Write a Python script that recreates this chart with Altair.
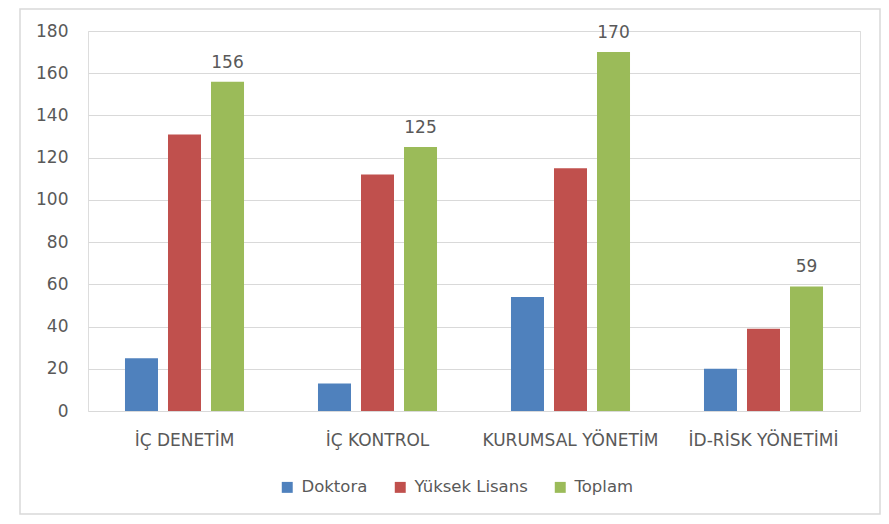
import altair as alt
import pandas as pd

categories = ["İÇ DENETİM", "İÇ KONTROL", "KURUMSAL YÖNETİM", "İD-RİSK YÖNETİMİ"]
series = ["Doktora", "Yüksek Lisans", "Toplam"]
doktora = [25, 13, 54, 20]
yuksek_lisans = [131, 112, 115, 39]
toplam = [156, 125, 170, 59]
colors = ["#4F81BD", "#C0504D", "#9BBB59"]
y_ticks = [0, 20, 40, 60, 80, 100, 120, 140, 160, 180]

rows = []
for s, vals in zip(series, [doktora, yuksek_lisans, toplam]):
    for c, v in zip(categories, vals):
        rows.append({"kategori": c, "seri": s, "deger": v})
df = pd.DataFrame(rows)

FONT = "DejaVu Sans"
FS = 17
TXT = "#595959"

x_enc = alt.X("kategori:N", sort=categories,
              scale=alt.Scale(paddingInner=0, paddingOuter=0),
              axis=alt.Axis(title=None, labelAngle=0, ticks=False, domain=False,
                            labelPadding=21, labelFontSize=FS, labelColor=TXT,
                            labelFont=FONT))
xoff = alt.XOffset("seri:N", sort=series,
                   scale=alt.Scale(paddingInner=10 / 43, paddingOuter=0.86))

bars = alt.Chart(df).mark_bar().encode(
    x=x_enc,
    xOffset=xoff,
    y=alt.Y("deger:Q", scale=alt.Scale(domain=[0, 180], nice=False),
            axis=alt.Axis(title=None, values=y_ticks, ticks=False, domain=False,
                          labelPadding=20, labelFontSize=FS, labelColor=TXT,
                          labelFont=FONT, gridColor="#d9d9d9", gridWidth=1.2)),
    color=alt.Color("seri:N", sort=series,
                    scale=alt.Scale(domain=series, range=colors),
                    legend=alt.Legend(title=None, orient="none", direction="horizontal",
                                      legendX=191, legendY=448, symbolType="square",
                                      symbolSize=120, symbolStrokeWidth=0,
                                      labelFontSize=16.5, labelColor=TXT, labelFont=FONT,
                                      labelOffset=6, columnPadding=24)),
)

labels = alt.Chart(df).transform_filter(alt.datum.seri == "Toplam").mark_text(
    baseline="alphabetic", dy=-14, fontSize=FS, color=TXT, font=FONT
).encode(
    x=alt.X("kategori:N", sort=categories),
    xOffset=xoff,
    y=alt.Y("deger:Q"),
    text=alt.Text("deger:Q"),
)

frame = alt.Chart(pd.DataFrame({"a": [0]})).mark_rect(
    fill=None, stroke="#d9d9d9", strokeWidth=1.5
).encode(
    x=alt.value(-68), x2=alt.value(792), y=alt.value(-22), y2=alt.value(483)
)

chart = alt.layer(frame, bars, labels).properties(
    width=772, height=380,
    autosize=alt.AutoSizeParams(type="none"),
    padding={"left": 80, "top": 23, "right": 21, "bottom": 105},
).configure_view(stroke=None).configure(background="white")

chart.save("out.html", embed_options={"renderer": "svg", "actions": False})
